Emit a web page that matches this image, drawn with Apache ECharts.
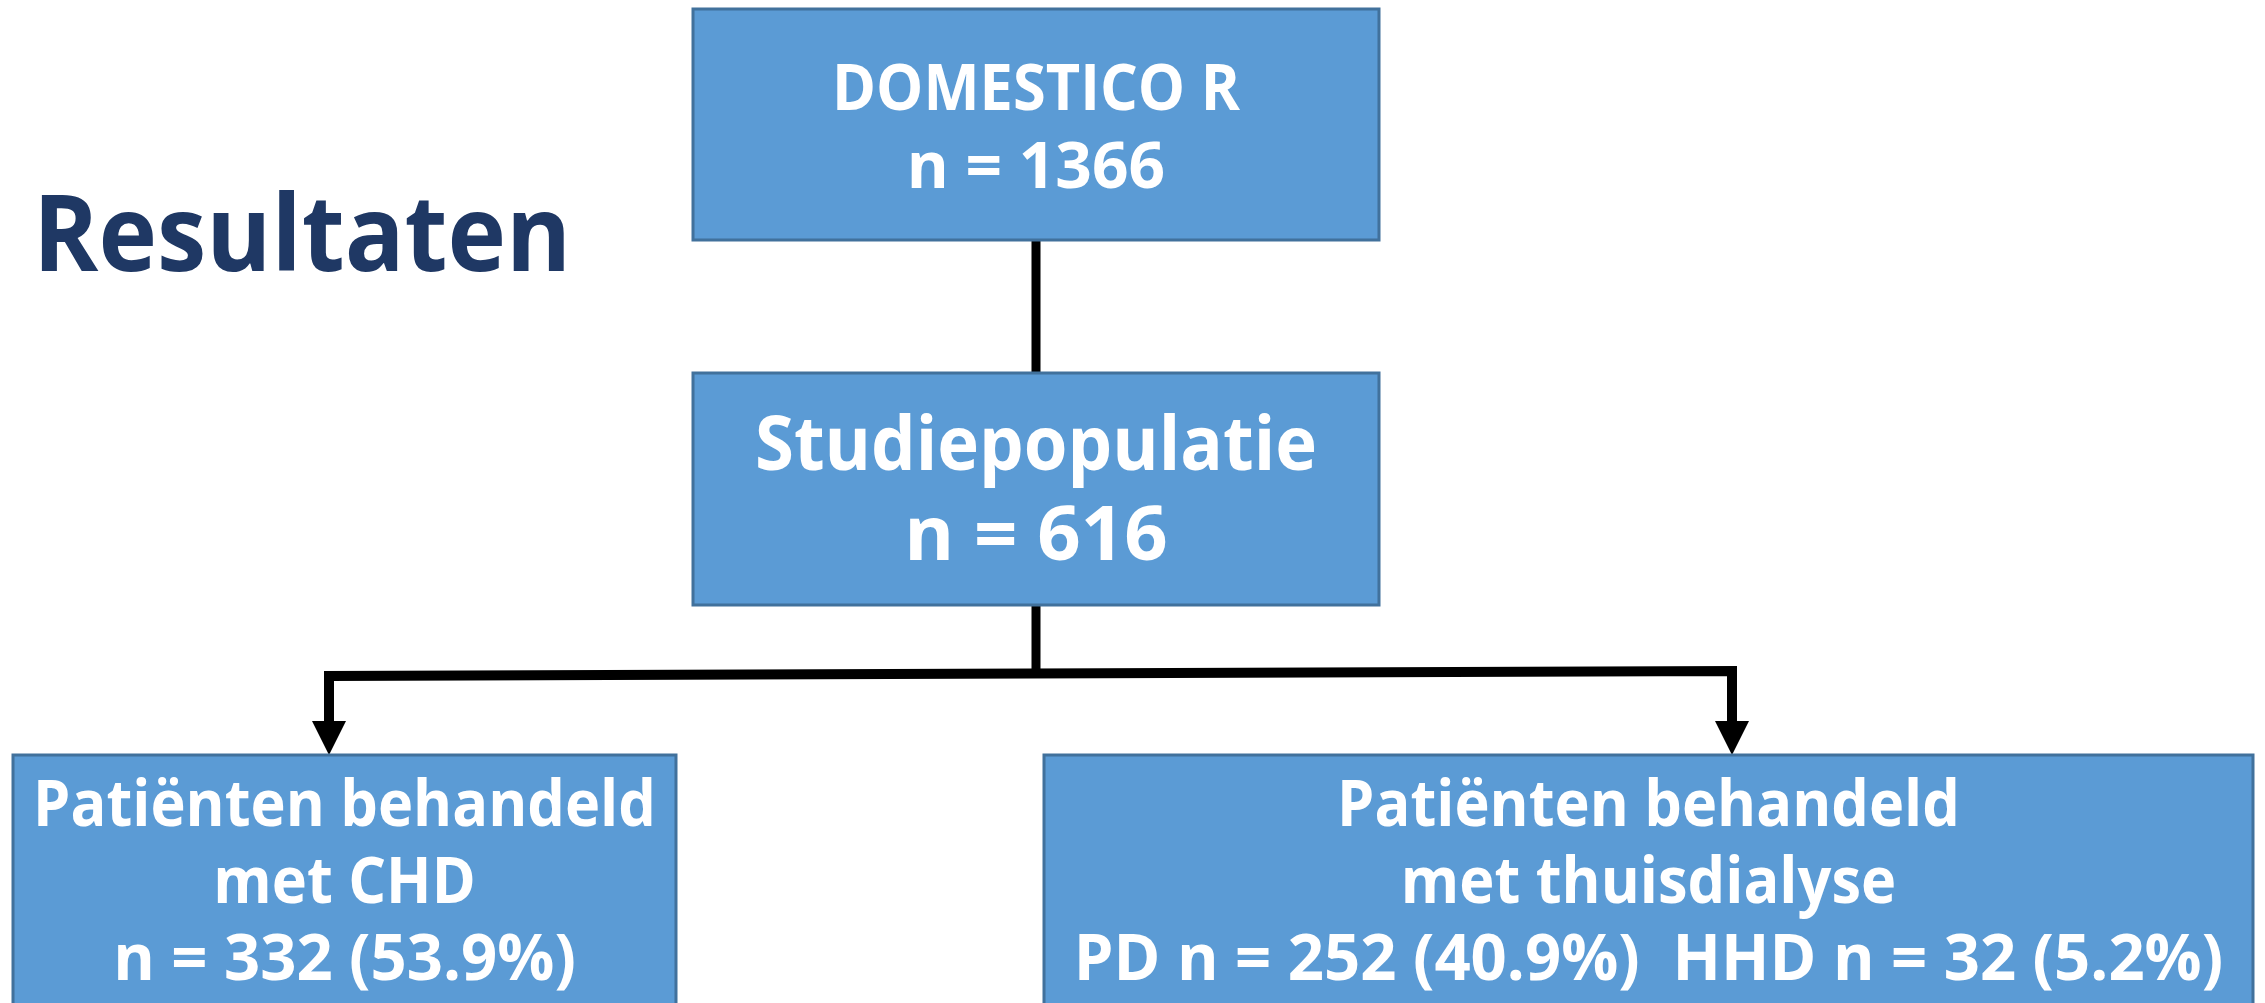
<!DOCTYPE html>
<html>
<head>
<meta charset="utf-8">
<script src="https://cdn.jsdelivr.net/npm/echarts@6/dist/echarts.min.js"></script>
<style>
  html, body { margin: 0; padding: 0; background: #fff; }
  #flow { width: 2265px; height: 1003px; }
</style>
</head>
<body>
<div id="flow"></div>
<script>
// --- data ---
const pageTitle = 'Resultaten';
const stageNames = ['DOMESTICO R', 'Studiepopulatie'];
const stageCounts = [1366, 616];
const groupNames = ['Patiënten behandeld\nmet CHD', 'Patiënten behandeld\nmet thuisdialyse'];
const modalityNames = ['', 'PD', 'HHD'];
const modalityCounts = [332, 252, 32];
const modalityPct = [53.9, 40.9, 5.2];
const groupModalities = [[0], [1, 2]];

// --- layout (canvas pixels, mapped through hidden axes) ---
const boxRects = [
  [693, 9, 1379, 240],
  [693, 373, 1379, 605],
  [13, 755, 676, 1040],
  [1044, 755, 2253, 1040]
];
// sx: squeeze for word lines, sxNum: for the lines with numbers
const boxTextPos = [
  { y: 131, size: 64, lh: 78, sx: 0.93, sxNum: 1.0 },
  { y: 493, size: 76, lh: 90, sx: 0.93, sxNum: 1.0 },
  { y: 885, size: 64, lh: 77, sx: 0.93, sxNum: 0.99 },
  { y: 885, size: 64, lh: 77, sx: 0.93, sxNum: 0.99 }
];
const linkPaths = [
  [[1036, 240], [1036, 373]],
  [[1036, 605], [1036, 674]],
  [[329, 724], [329, 676], [1732, 671], [1732, 724]]
];
const arrowTips = [[329, 755], [1732, 755]];

const modalityText = m =>
  (modalityNames[m] ? modalityNames[m] + ' ' : '') +
  'n = ' + modalityCounts[m] + ' (' + modalityPct[m].toFixed(1) + '%)';

const boxLabels = stageNames.map((s, i) => s + '\nn = ' + stageCounts[i])
  .concat(groupNames.map((g, i) => g + '\n' + groupModalities[i].map(modalityText).join('  ')));

const chart = echarts.init(document.getElementById('flow'));

const option = {
  animation: false,
  backgroundColor: '#ffffff',
  grid: { left: 0, right: 0, top: 0, bottom: 0 },
  xAxis: { type: 'value', min: 0, max: 2265, show: false },
  yAxis: { type: 'value', min: 0, max: 1003, inverse: true, show: false },
  graphic: [{
    type: 'text',
    x: 33,
    y: 241,
    scaleX: 0.935,
    style: {
      text: pageTitle,
      x: 0, y: 0,
      fill: '#1F3864',
      fontSize: 106,
      fontWeight: 'bold',
      fontFamily: 'Open Sans',
      align: 'left',
      verticalAlign: 'middle'
    }
  }],
  series: [
    {
      // connectors
      type: 'custom',
      silent: true,
      clip: false,
      data: linkPaths.map((p, i) => [p[0][0], p[0][1], i]),
      renderItem: (params, api) => {
        const path = linkPaths[params.dataIndex];
        const children = [{
          type: 'polyline',
          shape: { points: path.map(pt => api.coord(pt)) },
          style: { stroke: '#000', lineWidth: params.dataIndex === 2 ? 10 : 9, fill: null, lineJoin: 'miter', lineCap: 'butt' }
        }];
        if (params.dataIndex === 2) {
          arrowTips.forEach(t => {
            const tip = api.coord(t);
            const l = api.coord([t[0] - 17, t[1] - 34]);
            const r = api.coord([t[0] + 17, t[1] - 34]);
            children.push({ type: 'polygon', shape: { points: [tip, l, r] }, style: { fill: '#000' } });
          });
        }
        return { type: 'group', children: children };
      }
    },
    {
      // boxes
      type: 'custom',
      silent: true,
      clip: false,
      data: boxRects.map((r, i) => [r[0], r[1], i]),
      renderItem: (params, api) => {
        const i = params.dataIndex;
        const r = boxRects[i];
        const t = boxTextPos[i];
        const p0 = api.coord([r[0], r[1]]);
        const p1 = api.coord([r[2], r[3]]);
        const lines = boxLabels[i].split('\n');
        const children = [{
          type: 'rect',
          shape: { x: p0[0], y: p0[1], width: p1[0] - p0[0], height: p1[1] - p0[1] },
          style: { fill: '#5B9BD5', stroke: '#41719C', lineWidth: 3 }
        }];
        lines.forEach((line, k) => {
          const c = api.coord([(r[0] + r[2]) / 2, t.y + (k - (lines.length - 1) / 2) * t.lh]);
          children.push({
            type: 'text',
            x: c[0],
            y: c[1],
            scaleX: /\d/.test(line) ? t.sxNum : t.sx,
            style: {
              text: line,
              x: 0, y: 0,
              fill: '#ffffff',
              fontSize: t.size,
              fontWeight: 'bold',
              fontFamily: 'Open Sans',
              align: 'center',
              verticalAlign: 'middle'
            }
          });
        });
        return { type: 'group', children: children };
      }
    }
  ]
};

option && chart.setOption(option);
</script>
</body>
</html>
